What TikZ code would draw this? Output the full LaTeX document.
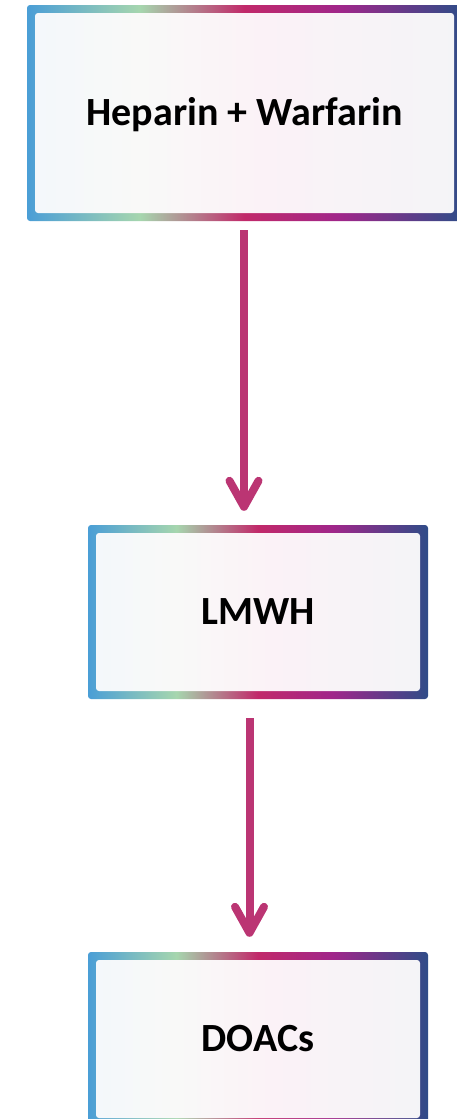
\documentclass[tikz,border=0pt]{standalone}
\usepackage{fontspec}
\setmainfont{Carlito}
\usetikzlibrary{arrows.meta,calc}
\definecolor{gA}{HTML}{4A9ED6}
\definecolor{gB}{HTML}{A6D6AE}
\definecolor{gC}{HTML}{C1296A}
\definecolor{gD}{HTML}{A0268A}
\definecolor{gE}{HTML}{2F4C88}
\definecolor{fA}{HTML}{F3F8FB}
\definecolor{fB}{HTML}{F9F9F8}
\definecolor{fC}{HTML}{FBF2F7}
\definecolor{fD}{HTML}{F4F4F7}
\definecolor{arrowc}{HTML}{BB3573}
\pgfdeclarehorizontalshading{bordergrad}{100bp}{color(0bp)=(gA); color(25bp)=(gA); color(38bp)=(gB); color(50bp)=(gC); color(61bp)=(gD); color(75bp)=(gE); color(100bp)=(gE)}
\pgfdeclarehorizontalshading{innergrad}{100bp}{color(0bp)=(fA); color(25bp)=(fA); color(38bp)=(fB); color(52bp)=(fC); color(75bp)=(fD); color(100bp)=(fD)}
\tikzset{
  gbox/.style={rectangle, rounded corners=3pt, inner sep=0pt, shade, shading=bordergrad,
    font=\fontsize{40}{48}\selectfont\bfseries, text=black, text height=25.5pt, text depth=0pt,
    path picture={\shade[shading=innergrad] ([shift={(8pt,-8pt)}]path picture bounding box.north west) rectangle ([shift={(-8pt,8pt)}]path picture bounding box.south east);}},
  arr/.style={draw=arrowc, line width=8pt, -{Straight Barb[round, length=26pt, width=29pt]}}
}
\begin{document}
\begin{tikzpicture}[x=1pt,y=-1pt]
\useasboundingbox (0,0) rectangle (456,1119);
\node[gbox, minimum width=435pt, minimum height=216pt] (hw) at (244.5,113) {Heparin + Warfarin};
\node[gbox, minimum width=340pt, minimum height=174pt] (lmwh) at (258,612) {LMWH};
\node[gbox, minimum width=340pt, minimum height=174pt] (doac) at (258,1039) {DOACs};
\draw[arr] ($(hw.south)+(-0.5,9)$) -- ($(lmwh.north)+(-14,-14)$);
\draw[arr] ($(lmwh.south)+(-8.5,19)$) -- ($(doac.north)+(-8.5,-15)$);
\end{tikzpicture}
\end{document}
